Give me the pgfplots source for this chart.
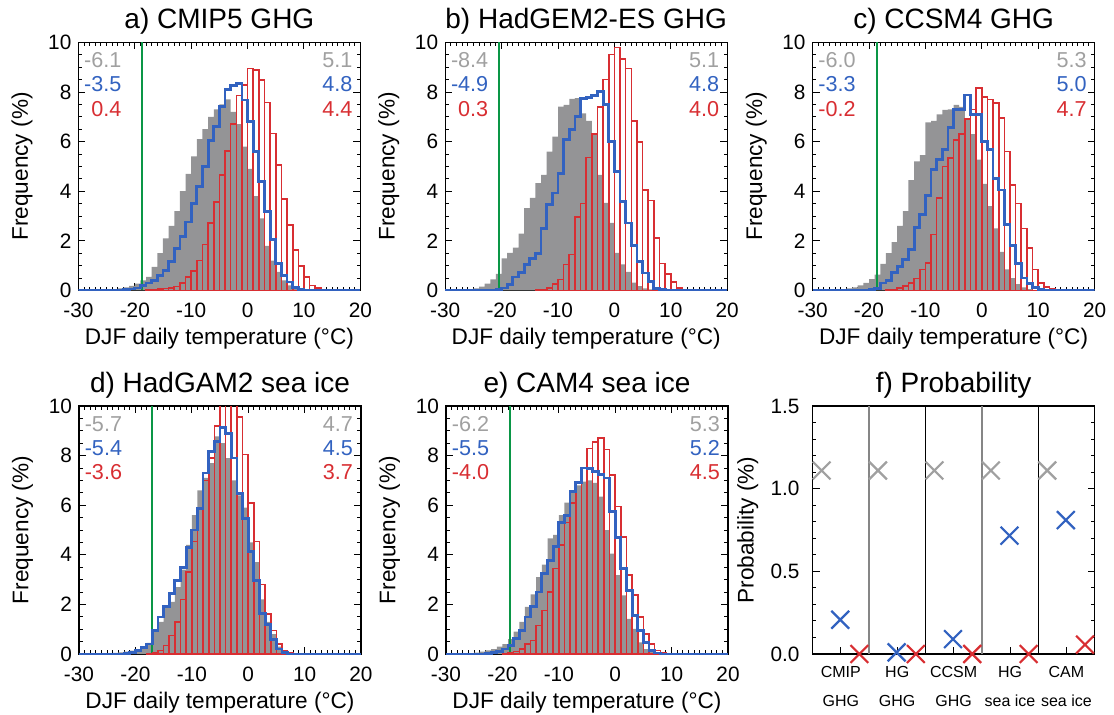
\documentclass[border=0pt]{standalone}
\usepackage{pgfplots}
\pgfplotsset{compat=1.18}
\usepackage{fontspec}
\setmainfont{Liberation Sans}
\definecolor{cgray}{RGB}{148,148,150}
\definecolor{cgraytxt}{RGB}{160,160,160}
\definecolor{cblue}{RGB}{50,98,192}
\definecolor{cred}{RGB}{216,46,50}
\definecolor{cgreen}{RGB}{10,150,70}
\newcommand{\annfont}{\fontsize{10.8}{12}\selectfont}
\newcommand{\annot}[6]{%
  \node[anchor=east,text=cgraytxt,font=\annfont,inner sep=0pt] at (axis cs:-22.3,9.28) {#1};
  \node[anchor=east,text=cblue,font=\annfont,inner sep=0pt] at (axis cs:-22.3,8.3) {#2};
  \node[anchor=east,text=cred,font=\annfont,inner sep=0pt] at (axis cs:-22.3,7.32) {#3};
  \node[anchor=east,text=cgraytxt,font=\annfont,inner sep=0pt] at (axis cs:18.65,9.28) {#4};
  \node[anchor=east,text=cblue,font=\annfont,inner sep=0pt] at (axis cs:18.65,8.3) {#5};
  \node[anchor=east,text=cred,font=\annfont,inner sep=0pt] at (axis cs:18.65,7.32) {#6};
}
\pgfplotsset{
  base/.style={
    scale only axis, width=141pt, height=124pt, anchor=south west,
    tick align=inside,
    major tick length=3.5pt, minor tick length=1.8pt,
    tick style={black, line width=0.5pt},
    axis line style={line width=0.6pt},
    /pgf/number format/assume math mode=true,
    tick label style={font=\fontsize{10.4}{12}\selectfont},
    label style={font=\fontsize{11.3}{13}\selectfont},
    title style={font=\fontsize{14}{16}\selectfont, at={(axis description cs:0.5,1.085)}, anchor=center, yshift=-6pt},
  },
  hist/.style={
    base,
    xmin=-30, xmax=20, ymin=0, ymax=10,
    xtick={-30,-20,...,20}, ytick={0,2,...,10},
    minor x tick num=9, minor y tick num=3,
    xtick pos=both, ytick pos=both,
    xticklabel style={yshift=-3pt},
    xlabel={DJF daily temperature (°C)},
    ylabel={Frequency (\%)},
    xlabel style={at={(axis description cs:0.5,-0.195)}, anchor=center},
    ylabel style={at={(axis description cs:-0.2,0.5)}, anchor=center},
  },
  grayh/.style={const plot, fill=cgray, draw=none},
  redh/.style={ybar interval, draw=cred, fill=none, line width=0.8pt},
  blueh/.style={const plot, draw=cblue, line width=1.4pt},
  greenl/.style={draw=cgreen, line width=1pt},
}
\begin{document}
\begin{tikzpicture}
\useasboundingbox (0,0) rectangle (557pt,357pt);

% ---------------- a
\begin{axis}[hist, at={(39.2pt,211.8pt)}, title={a) CMIP5 GHG}]
\addplot[grayh] coordinates {(-28,0.01)(-27,0.01)(-26,0.02)(-25,0.03)(-24,0.05)(-23,0.08)(-22,0.12)(-21,0.18)(-20,0.27)(-19,0.4)(-18,0.55)(-17,0.95)(-16,1.5)(-15,2.1)(-14,2.6)(-13,3.2)(-12,4.0)(-11,4.7)(-10,5.4)(-9,6.1)(-8,6.5)(-7,7.0)(-6,7.3)(-5,7.5)(-4,7.7)(-3,7.2)(-2,6.7)(-1,5.8)(0,4.9)(1,3.8)(2,2.9)(3,1.8)(4,1.2)(5,0.75)(6,0.4)(7,0.2)(8,0.1)(9,0.05)(10,0.02)(11,0)} \closedcycle;
\addplot[greenl] coordinates {(-18.65,0)(-18.65,10)};
\addplot[redh] coordinates {(-18,0.02)(-17,0.04)(-16,0.05)(-15,0.07)(-14,0.1)(-13,0.16)(-12,0.3)(-11,0.54)(-10,0.78)(-9,1.21)(-8,1.85)(-7,2.72)(-6,3.57)(-5,4.65)(-4,5.63)(-3,6.71)(-2,7.86)(-1,8.29)(0,8.94)(1,8.89)(2,8.49)(3,7.57)(4,6.33)(5,5.05)(6,3.68)(7,2.63)(8,1.62)(9,0.98)(10,0.54)(11,0.2)(12,0.1)(13,0.04)(14,0)};
\addplot[blueh] coordinates {(-30,0)(-22,0.03)(-21,0.06)(-20,0.1)(-19,0.2)(-18,0.3)(-17,0.4)(-16,0.61)(-15,0.81)(-14,1.15)(-13,1.68)(-12,2.16)(-11,2.76)(-10,3.5)(-9,4.18)(-8,4.99)(-7,6.06)(-6,6.6)(-5,7.41)(-4,8.11)(-3,8.25)(-2,8.33)(-1,7.68)(0,6.8)(1,5.59)(2,4.38)(3,3.17)(4,2.05)(5,1.08)(6,0.61)(7,0.34)(8,0.13)(9,0.05)(10,0.02)(11,0)(20,0)};
\annot{-6.1}{-3.5}{0.4}{5.1}{4.8}{4.4}
\end{axis}

% ---------------- b
\begin{axis}[hist, at={(222.6pt,211.8pt)}, title={b) HadGEM2-ES GHG}]
\addplot[grayh] coordinates {(-28,0.01)(-27,0.02)(-26,0.04)(-25,0.08)(-24,0.15)(-23,0.27)(-22,0.44)(-21,0.67)(-20,1.29)(-19,1.51)(-18,1.72)(-17,2.29)(-16,3.32)(-15,3.73)(-14,4.33)(-13,4.66)(-12,5.6)(-11,6.2)(-10,7.41)(-9,7.48)(-8,7.72)(-7,7.75)(-6,7.14)(-5,6.84)(-4,6.34)(-3,4.66)(-2,3.53)(-1,2.72)(0,1.51)(1,1.05)(2,0.75)(3,0.31)(4,0.17)(5,0.08)(6,0.04)(7,0)} \closedcycle;
\addplot[greenl] coordinates {(-20.4,0)(-20.4,10)};
\addplot[redh] coordinates {(-14,0.02)(-13,0.04)(-12,0.1)(-11,0.27)(-10,0.44)(-9,1.05)(-8,1.45)(-7,2.95)(-6,3.5)(-5,5.36)(-4,6.31)(-3,7.4)(-2,8.5)(-1,9.52)(0,9.8)(1,9.33)(2,8.95)(3,6.84)(4,5.98)(5,4.06)(6,3.63)(7,2.12)(8,1.09)(9,0.67)(10,0.35)(11,0.1)(12,0.03)(13,0)};
\addplot[blueh] coordinates {(-30,0)(-22,0.01)(-21,0.03)(-20,0.1)(-19,0.24)(-18,0.54)(-17,0.71)(-16,1.05)(-15,1.29)(-14,1.5)(-13,2.49)(-12,3.46)(-11,3.93)(-10,4.73)(-9,6.1)(-8,6.48)(-7,7.0)(-6,7.75)(-5,7.77)(-4,7.87)(-3,8.03)(-2,7.48)(-1,6.0)(0,4.8)(1,3.6)(2,2.72)(3,1.82)(4,1.18)(5,0.7)(6,0.37)(7,0.08)(8,0.03)(9,0)(20,0)};
\annot{-8.4}{-4.9}{0.3}{5.1}{4.8}{4.0}
\end{axis}

% ---------------- c
\begin{axis}[hist, at={(406.3pt,211.8pt)}, title={c) CCSM4 GHG}]
\addplot[grayh] coordinates {(-28,0.01)(-27,0.02)(-26,0.03)(-25,0.05)(-24,0.08)(-23,0.12)(-22,0.2)(-21,0.3)(-20,0.45)(-19,0.64)(-18,1.07)(-17,1.5)(-16,1.95)(-15,2.6)(-14,3.2)(-13,4.45)(-12,5.2)(-11,5.45)(-10,6.78)(-9,6.84)(-8,7.1)(-7,7.28)(-6,7.3)(-5,7.48)(-4,7.4)(-3,6.9)(-2,6.3)(-1,5.27)(0,4.3)(1,3.4)(2,2.5)(3,1.55)(4,0.85)(5,0.5)(6,0.25)(7,0.12)(8,0.05)(9,0)} \closedcycle;
\addplot[greenl] coordinates {(-18.5,0)(-18.5,10)};
\addplot[redh] coordinates {(-17,0.02)(-16,0.04)(-15,0.1)(-14,0.17)(-13,0.3)(-12,0.48)(-11,0.84)(-10,1.11)(-9,2.25)(-8,3.73)(-7,5.0)(-6,5.33)(-5,6.07)(-4,6.3)(-3,6.9)(-2,7.3)(-1,8.15)(0,7.8)(1,7.7)(2,7.55)(3,6.95)(4,5.6)(5,4.24)(6,3.5)(7,2.5)(8,1.72)(9,0.84)(10,0.3)(11,0.13)(12,0.05)(13,0)};
\addplot[blueh] coordinates {(-30,0)(-21,0.02)(-20,0.03)(-19,0.08)(-18,0.3)(-17,0.4)(-16,0.71)(-15,0.98)(-14,1.25)(-13,1.65)(-12,2.55)(-11,3.05)(-10,3.83)(-9,4.87)(-8,5.27)(-7,5.67)(-6,6.57)(-5,7.28)(-4,7.28)(-3,7.88)(-2,7.08)(-1,7.08)(0,6.0)(1,5.67)(2,4.5)(3,4.05)(4,2.65)(5,1.8)(6,1.1)(7,0.5)(8,0.27)(9,0.13)(10,0.04)(11,0)(20,0)};
\annot{-6.0}{-3.3}{-0.2}{5.3}{5.0}{4.7}
\end{axis}

% ---------------- d
\begin{axis}[hist, at={(39.5pt,30pt)}, title={d) HadGAM2 sea ice}]
\addplot[grayh] coordinates {(-27,0.01)(-26,0.02)(-25,0.03)(-24,0.05)(-23,0.07)(-22,0.1)(-21,0.14)(-20,0.2)(-19,0.3)(-18,0.45)(-17,0.95)(-16,1.3)(-15,1.9)(-14,2.1)(-13,2.7)(-12,3.4)(-11,4.4)(-10,5.6)(-9,6.6)(-8,7.1)(-7,7.7)(-6,8.78)(-5,8.5)(-4,7.9)(-3,7.0)(-2,6.4)(-1,5.9)(0,4.5)(1,3.7)(2,2.2)(3,1.3)(4,0.8)(5,0.3)(6,0.1)(7,0.04)(8,0)} \closedcycle;
\addplot[greenl] coordinates {(-17.1,0)(-17.1,10)};
\addplot[redh] coordinates {(-18,0.02)(-17,0.05)(-16,0.14)(-15,0.34)(-14,0.75)(-13,1.28)(-12,2.2)(-11,3.3)(-10,4.53)(-9,5.9)(-8,7.0)(-7,7.9)(-6,9.19)(-5,10.6)(-4,8.9)(-3,10.8)(-2,9.55)(-1,8.04)(0,6.08)(1,4.53)(2,2.8)(3,1.62)(4,0.95)(5,0.4)(6,0.14)(7,0.04)(8,0)};
\addplot[blueh] coordinates {(-30,0)(-22,0.02)(-21,0.05)(-20,0.14)(-19,0.27)(-18,0.4)(-17,0.95)(-16,1.49)(-15,1.9)(-14,2.43)(-13,2.97)(-12,3.5)(-11,4.3)(-10,5.0)(-9,5.88)(-8,7.3)(-7,8.18)(-6,8.58)(-5,9.12)(-4,8.88)(-3,7.9)(-2,6.47)(-1,5.45)(0,4.12)(1,2.97)(2,1.62)(3,1.18)(4,0.6)(5,0.2)(6,0.07)(7,0)(20,0)};
\annot{-5.7}{-5.4}{-3.6}{4.7}{4.5}{3.7}
\end{axis}

% ---------------- e
\begin{axis}[hist, at={(223pt,30pt)}, title={e) CAM4 sea ice}]
\addplot[grayh] coordinates {(-28,0.01)(-27,0.02)(-26,0.04)(-25,0.06)(-24,0.1)(-23,0.15)(-22,0.2)(-21,0.3)(-20,0.4)(-19,0.6)(-18,0.9)(-17,1.3)(-16,1.9)(-15,2.4)(-14,3.1)(-13,3.6)(-12,4.66)(-11,4.8)(-10,5.6)(-9,6.1)(-8,6.5)(-7,6.8)(-6,6.95)(-5,7.0)(-4,6.9)(-3,6.35)(-2,5.0)(-1,4.05)(0,3.18)(1,2.36)(2,1.42)(3,1.01)(4,0.47)(5,0.2)(6,0.08)(7,0.03)(8,0)} \closedcycle;
\addplot[greenl] coordinates {(-18.65,0)(-18.65,10)};
\addplot[redh] coordinates {(-20,0.02)(-19,0.05)(-18,0.1)(-17,0.2)(-16,0.4)(-15,0.54)(-14,1.15)(-13,1.76)(-12,2.5)(-11,3.45)(-10,4.4)(-9,5.3)(-8,6.08)(-7,6.9)(-6,7.5)(-5,8.28)(-4,8.55)(-3,8.72)(-2,8.24)(-1,7.23)(0,5.95)(1,4.73)(2,3.18)(3,2.39)(4,1.49)(5,0.81)(6,0.4)(7,0.14)(8,0.05)(9,0)};
\addplot[blueh] coordinates {(-30,0)(-23,0.02)(-22,0.05)(-21,0.1)(-20,0.2)(-19,0.34)(-18,0.64)(-17,0.95)(-16,1.49)(-15,1.9)(-14,2.5)(-13,3.24)(-12,3.78)(-11,4.32)(-10,5.3)(-9,5.6)(-8,6.55)(-7,6.93)(-6,7.5)(-5,7.47)(-4,7.36)(-3,7.23)(-2,7.1)(-1,5.74)(0,4.69)(1,3.45)(2,2.57)(3,1.55)(4,0.95)(5,0.47)(6,0.14)(7,0.04)(8,0)(20,0)};
\annot{-6.2}{-5.5}{-4.0}{5.3}{5.2}{4.5}
\end{axis}

% ---------------- f
\begin{axis}[base, at={(406.3pt,30pt)}, title={f) Probability},
  xmin=0, xmax=5, ymin=0, ymax=1.5, clip=false,
  xtick={0.5,1.5,2.5,3.5,4.5},
  xticklabels={{CMIP\\[4.6pt]GHG},{HG\\[4.6pt]GHG},{CCSM\\[4.6pt]GHG},{HG\\[4.6pt]sea ice},{CAM\\[4.6pt]sea ice}},
  xticklabel style={font=\fontsize{8}{9.6}\selectfont, align=center, yshift=-2.8pt},
  ytick={0,0.5,1,1.5}, minor y tick num=4,
  yticklabel style={xshift=-3pt, /pgf/number format/.cd, fixed, fixed zerofill, precision=1},
  xtick pos=bottom, ytick pos=both,
  ylabel={Probability (\%)},
  ylabel style={at={(axis description cs:-0.23,0.5)}, anchor=center},
]
\addplot[draw=gray!95, line width=0.8pt] coordinates {(1,0)(1,1.5)};
\addplot[draw=black, line width=0.6pt] coordinates {(2,0)(2,1.5)};
\addplot[draw=gray!95, line width=0.8pt] coordinates {(3,0)(3,1.5)};
\addplot[draw=black, line width=0.6pt] coordinates {(4,0)(4,1.5)};
\addplot[only marks, mark=x, mark size=6.3pt, draw=cgraytxt, line width=1.1pt] coordinates {(0.16,1.11)(1.16,1.11)(2.16,1.11)(3.16,1.11)(4.16,1.11)};
\addplot[only marks, mark=x, mark size=6.3pt, draw=cblue, line width=1.1pt] coordinates {(0.49,0.207)(1.49,0.01)(2.49,0.09)(3.49,0.716)(4.49,0.81)};
\addplot[only marks, mark=x, mark size=6.3pt, draw=cred, line width=1.1pt] coordinates {(0.83,0)(1.83,0)(2.83,0)(3.83,0)(4.83,0.057)};
\end{axis}
\end{tikzpicture}
\end{document}
